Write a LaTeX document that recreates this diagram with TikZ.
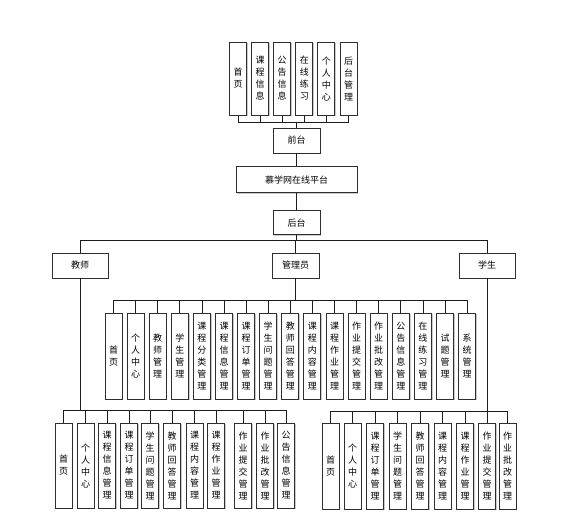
\documentclass[tikz,border=0pt]{standalone}
\usepackage{fontspec}
\setmainfont{Noto Sans CJK SC}
\usetikzlibrary{positioning,shadows}
\definecolor{Edge}{HTML}{2E2E2E}
\definecolor{Wire}{HTML}{1C1C1C}
\definecolor{Shade}{HTML}{C4C4C4}
\tikzset{
  box/.style={draw=Edge,fill=white,line width=.9pt,minimum height=25pt,align=center,inner sep=0pt,font=\fontsize{9}{12}\selectfont,drop shadow={fill=Shade,opacity=.9,shadow xshift=1.2pt,shadow yshift=-1.2pt}},
  vbox/.style={box,minimum width=17pt,text width=10pt},
  wire/.style={draw=Wire,line width=.7pt}
}
\begin{document}
\begin{tikzpicture}[x=1pt,y=-1pt]
  \useasboundingbox (0,0) rectangle (576,521);
  % front pages
  \foreach \t [count=\i] in {{首\\页},{课\\程\\信\\息},{公\\告\\信\\息},{在\\线\\练\\习},{个\\人\\中\\心},{后\\台\\管\\理}}
    \node[vbox,minimum height=73pt] (f\i) at ({238+(\i-1)*22.1},78.5) {\t};
  \node[box,minimum width=47pt] (qt) at (296.5,140.5) {前台};
  \node[box,minimum width=121pt,minimum height=26pt,below=13pt of qt] (pt) {慕学网在线平台};
  \node[box,minimum width=47pt,minimum height=24pt,below=17pt of pt] (ht) {后台};
  \node[box,minimum width=56pt] (js) at (80,265.5) {教师};
  \node[box,minimum width=47pt] (gl) at (295.5,265.5) {管理员};
  \node[box,minimum width=56pt] (xs) at (487,265.5) {学生};
  % manager
  \foreach \t [count=\i] in {{首\\页},{个\\人\\中\\心},{教\\师\\管\\理},{学\\生\\管\\理},{课\\程\\分\\类\\管\\理},{课\\程\\信\\息\\管\\理},{课\\程\\订\\单\\管\\理},{学\\生\\问\\题\\管\\理},{教\\师\\回\\答\\管\\理},{课\\程\\内\\容\\管\\理},{课\\程\\作\\业\\管\\理},{作\\业\\提\\交\\管\\理},{作\\业\\批\\改\\管\\理},{公\\告\\信\\息\\管\\理},{在\\线\\练\\习\\管\\理},{试\\题\\管\\理},{系\\统\\管\\理}}
    \node[vbox,minimum height=86pt] (m\i) at ({113.5+(\i-1)*22.1},356) {\t};
  % teacher
  \foreach \x/\t [count=\i] in {63.5/{首\\页},85.5/{个\\人\\中\\心},107/{课\\程\\信\\息\\管\\理},129/{课\\程\\订\\单\\管\\理},150/{学\\生\\问\\题\\管\\理},172/{教\\师\\回\\答\\管\\理},194.5/{课\\程\\内\\容\\管\\理},216/{课\\程\\作\\业\\管\\理},243/{作\\业\\提\\交\\管\\理},265/{作\\业\\批\\改\\管\\理},286/{公\\告\\信\\息\\管\\理}}
    \node[vbox,minimum height=85pt] (t\i) at (\x,465.5) {\t};
  % student
  \foreach \x/\t [count=\i] in {330.5/{首\\页},352.5/{个\\人\\中\\心},375/{课\\程\\订\\单\\管\\理},397.5/{学\\生\\问\\题\\管\\理},420/{教\\师\\回\\答\\管\\理},442.5/{课\\程\\内\\容\\管\\理},465/{课\\程\\作\\业\\管\\理},487/{作\\业\\提\\交\\管\\理},507.5/{作\\业\\批\\改\\管\\理}}
    \node[vbox,minimum height=86pt] (s\i) at (\x,466) {\t};
  % connectors
  \coordinate (fbar) at (0,122);
  \coordinate (rbar) at (0,240);
  \coordinate (mbar) at (0,300);
  \coordinate (tbar) at (0,410);
  \coordinate (sbar) at (0,411);
  \foreach \i in {1,...,6} \draw[wire] (f\i.south) -- (f\i.south |- fbar);
  \draw[wire] (f1.south |- fbar) -- (f6.south |- fbar);
  \draw[wire] (qt.north) -- (qt.north |- fbar);
  \draw[wire] (qt) -- (pt);
  \draw[wire] (pt) -- (ht);
  \draw[wire] (ht.south) -- (ht.south |- rbar);
  \draw[wire] (js.north |- rbar) -- (xs.north |- rbar);
  \foreach \n in {js,gl,xs} \draw[wire] (\n.north) -- (\n.north |- rbar);
  \draw[wire] (gl.south) -- (gl.south |- mbar);
  \draw[wire] (m1.north |- mbar) -- (m17.north |- mbar);
  \foreach \i in {1,...,17} \draw[wire] (m\i.north) -- (m\i.north |- mbar);
  \draw[wire] (js.south) -- (js.south |- tbar);
  \draw[wire] (t1.north |- tbar) -- (t11.north |- tbar);
  \foreach \i in {1,...,11} \draw[wire] (t\i.north) -- (t\i.north |- tbar);
  \draw[wire] (xs.south) -- (xs.south |- sbar);
  \draw[wire] (s1.north |- sbar) -- (s9.north |- sbar);
  \foreach \i in {1,...,9} \draw[wire] (s\i.north) -- (s\i.north |- sbar);
\end{tikzpicture}
\end{document}
